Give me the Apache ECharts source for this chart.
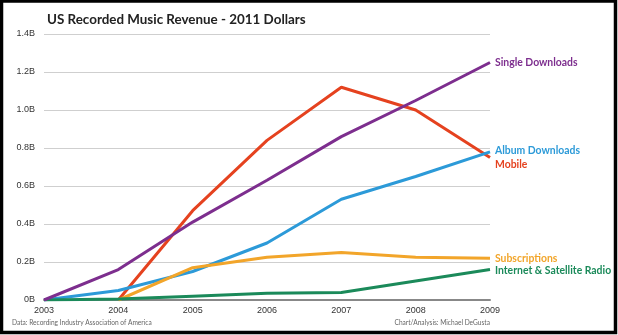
<!DOCTYPE html>
<html><head><meta charset="utf-8">
<script src="https://cdn.jsdelivr.net/npm/echarts@6/dist/echarts.min.js"></script>
<style>html,body{margin:0;padding:0;background:#fff}#c{width:618px;height:335px}</style>
</head><body><div id="c"></div>
<script>
var years = ['2003','2004','2005','2006','2007','2008','2009'];
var yTickLabels = ['0B','0.2B','0.4B','0.6B','0.8B','1.0B','1.2B','1.4B'];
var singleDownloads = [0, 0.16, 0.41, 0.63, 0.86, 1.05, 1.25];
var mobile = [null, 0, 0.47, 0.84, 1.12, 1.0, 0.75];
var albumDownloads = [0, 0.05, 0.15, 0.30, 0.53, 0.65, 0.78];
var subscriptions = [null, 0, 0.17, 0.225, 0.25, 0.225, 0.22];
var radio = [0, 0.005, 0.02, 0.035, 0.04, 0.10, 0.16];

var font = 'Lato';
function mk(name, label, data, color, off, z) {
  return {
    name: name, type: 'line', data: data, symbol: 'none', z: z,
    lineStyle: { color: color, width: 3 }, itemStyle: { color: color },
    endLabel: { show: true, formatter: label, color: color, fontFamily: font,
      fontWeight: 'bold', fontSize: 10.4, distance: 5, offset: off }
  };
}
var chart = echarts.init(document.getElementById('c'), null, { renderer: 'canvas' });
chart.setOption({
  animation: false,
  title: { text: 'US Recorded Music Revenue - 2011 Dollars', left: 42, top: 8,
    textStyle: { fontFamily: font, fontSize: 13.4, fontWeight: 'bold', color: '#222' } },
  grid: { left: 44, right: 128, top: 34, bottom: 35 },
  xAxis: { type: 'category', data: years, boundaryGap: false,
    axisLine: { lineStyle: { color: '#888', width: 2 } }, axisTick: { show: false },
    axisLabel: { color: '#333', fontFamily: 'Liberation Sans', fontSize: 9, margin: 6 } },
  yAxis: { type: 'value', min: 0, max: 1.4, interval: 0.2,
    axisLine: { show: false }, axisTick: { show: false },
    splitLine: { lineStyle: { color: '#cfcfcf', width: 1 } },
    axisLabel: { color: '#333', fontFamily: 'Liberation Sans', fontSize: 9, margin: 9,
      formatter: function (v) { return yTickLabels[Math.round(v / 0.2)]; } } },
  series: [
    mk('Radio', 'Internet & Satellite Radio', radio, '#1b8a5a', [0, 1], 5),
    mk('Subscriptions', 'Subscriptions', subscriptions, '#f2a52a', [0, 0], 4),
    mk('Album Downloads', 'Album Downloads', albumDownloads, '#2c9ad8', [0, -1], 3),
    mk('Mobile', 'Mobile', mobile, '#e5421f', [0, 7], 2),
    mk('Single Downloads', 'Single Downloads', singleDownloads, '#7d2e8e', [0, 0], 6)
  ],
  graphic: [
    { type: 'text', left: 12, top: 319, style: { text: 'Data: Recording Industry Association of America',
      fill: '#666', font: '6.6px Lato' } },
    { type: 'text', right: 128, top: 319, style: { text: 'Chart/Analysis: Michael DeGusta',
      fill: '#666', font: '6.6px Lato' } },
    { type: 'rect', shape: { x: 1.5, y: 1, width: 614, height: 331.5 }, z: 100,
      style: { fill: 'none', stroke: '#000', lineWidth: 3.5 } }
  ]
});
</script></body></html>
